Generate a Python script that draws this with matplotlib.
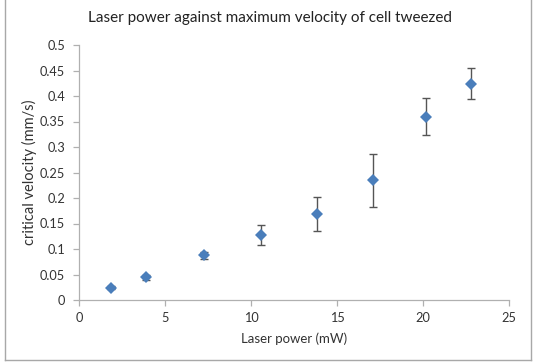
import matplotlib
matplotlib.use("Agg")
import matplotlib.pyplot as plt
from matplotlib.lines import Line2D

plt.rcParams['font.family'] = ['Lato', 'DejaVu Sans']

laser_power = [1.86, 3.91, 7.28, 10.57, 13.83, 17.08, 20.16, 22.8]
velocity = [0.024, 0.0445, 0.0876, 0.127, 0.169, 0.235, 0.3595, 0.424]
velocity_err = [0.003, 0.005, 0.007, 0.02, 0.033, 0.052, 0.036, 0.03]
x_ticks = [0, 5, 10, 15, 20, 25]
y_ticks = [0, 0.05, 0.1, 0.15, 0.2, 0.25, 0.3, 0.35, 0.4, 0.45, 0.5]
y_tick_labels = ['0', '0.05', '0.1', '0.15', '0.2', '0.25', '0.3', '0.35', '0.4', '0.45', '0.5']

W, H = 538, 362
fig = plt.figure(figsize=(W/100, H/100), dpi=100)
ax = fig.add_axes([79/W, 1-300/H, (509-79)/W, (300-45)/H])

ax.errorbar(laser_power, velocity, yerr=velocity_err, fmt='none',
            ecolor='#555555', elinewidth=1.0, capsize=2.8, capthick=1.0, zorder=2)
ax.plot(laser_power, velocity, 'D', color='#4a7ebb', markersize=6.5,
        markeredgewidth=0, zorder=3)

ax.set_xlim(0, 25)
ax.set_ylim(0, 0.5)
ax.set_xticks(x_ticks)
ax.set_yticks(y_ticks)
ax.set_yticklabels(y_tick_labels)
for s in ['top', 'right']:
    ax.spines[s].set_visible(False)
for s in ['left', 'bottom']:
    ax.spines[s].set_color('#b0b0b0')
    ax.spines[s].set_linewidth(0.9)
ax.tick_params(axis='both', colors='#b0b0b0', length=4, width=0.9, labelsize=9.2,
               labelcolor='#333333', direction='out')
ax.tick_params(axis='y', pad=6)
ax.tick_params(axis='x', pad=5)

ax.set_xlabel('Laser power (mW)', fontsize=9.5, color='#333333', labelpad=6)
ax.set_ylabel('critical velocity (mm/s)', fontsize=10.5, color='#333333')
ax.yaxis.set_label_coords(-(79-37)/(509-79), 0.5)
fig.text(270/W, 1-18/H, 'Laser power against maximum velocity of cell tweezed',
         ha='center', va='center', fontsize=11, color='#222222')

c = '#a8a8a8'
fig.add_artist(Line2D([5/W, 5/W], [1-359.5/H, 1.0], color=c, lw=1.0))
fig.add_artist(Line2D([530.5/W, 530.5/W], [1-359.5/H, 1.0], color=c, lw=1.0))
fig.add_artist(Line2D([5/W, 530.5/W], [1-359.5/H, 1-359.5/H], color=c, lw=1.0))

fig.savefig('out.png', dpi=100)
